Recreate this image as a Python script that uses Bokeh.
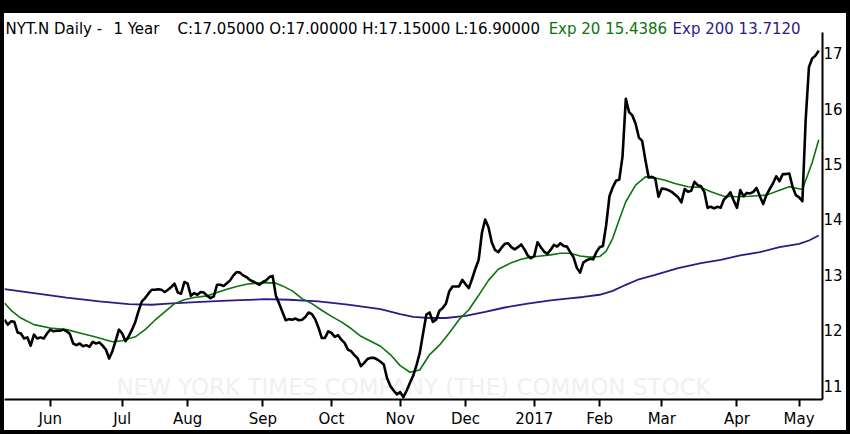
from bokeh.plotting import figure
from bokeh.models import Range1d, FixedTicker, Label, Spacer
from bokeh.layouts import column, row
from bokeh.embed import file_html
from bokeh.resources import INLINE

# ---------------- data ----------------
close = [
    12.19, 12.10, 12.16, 12.15, 11.96, 11.94, 11.85, 11.87, 11.72, 11.92,
    11.85, 11.87, 11.85, 11.94, 12.01, 11.98, 11.99, 11.99, 12.01, 11.98,
    11.93, 11.76, 11.73, 11.76, 11.71, 11.73, 11.70, 11.79, 11.76, 11.78,
    11.72, 11.65, 11.49, 11.62, 11.81, 12.01, 11.94, 11.80, 11.89, 12.01,
    12.15, 12.35, 12.52, 12.58, 12.66, 12.73, 12.73, 12.74, 12.73, 12.69,
    12.73, 12.78, 12.84, 12.68, 12.66, 12.87, 12.84, 12.62, 12.67, 12.64,
    12.69, 12.68, 12.62, 12.58, 12.61, 12.82, 12.82, 12.80, 12.85, 12.90,
    12.99, 13.05, 13.04, 12.99, 12.96, 12.91, 12.88, 12.85, 12.82, 12.87,
    12.90, 12.96, 12.98, 12.62, 12.48, 12.33, 12.18, 12.20, 12.19, 12.21,
    12.18, 12.19, 12.24, 12.32, 12.29, 12.20, 12.05, 11.86, 11.86, 11.98,
    11.95, 11.88, 11.91, 11.83, 11.77, 11.65, 11.62, 11.55, 11.49, 11.35,
    11.41, 11.48, 11.50, 11.50, 11.47, 11.43, 11.38, 11.13, 10.99, 10.91,
    10.84, 10.88, 10.79, 10.91, 11.05, 11.18, 11.37, 11.59, 11.94, 12.28,
    12.32, 12.15, 12.19, 12.35, 12.40, 12.48, 12.70, 12.79, 12.79, 12.79,
    12.91, 12.83, 12.76, 12.93, 13.11, 13.27, 13.76, 14.00, 13.86, 13.59,
    13.45, 13.41, 13.49, 13.56, 13.57, 13.50, 13.46, 13.50, 13.55, 13.46,
    13.35, 13.30, 13.34, 13.59, 13.50, 13.42, 13.38, 13.45, 13.54, 13.51,
    13.57, 13.52, 13.51, 13.41, 13.32, 13.13, 13.04, 13.22, 13.26, 13.29,
    13.28, 13.41, 13.50, 13.52, 13.90, 14.42, 14.58, 14.70, 14.72, 15.14,
    16.18, 15.94, 15.88, 15.73, 15.48, 15.42, 15.07, 14.76, 14.77, 14.74,
    14.41, 14.56, 14.55, 14.53, 14.50, 14.45, 14.40, 14.31, 14.55, 14.50,
    14.52, 14.68, 14.62, 14.60, 14.50, 14.21, 14.23, 14.20, 14.23, 14.21,
    14.36, 14.42, 14.49, 14.34, 14.21, 14.53, 14.42, 14.48, 14.47, 14.50,
    14.57, 14.42, 14.28, 14.44, 14.55, 14.65, 14.78, 14.69, 14.82, 14.82,
    14.83, 14.59, 14.44, 14.40, 14.33, 15.79, 16.75, 16.91, 16.96, 17.05,
]
day = list(range(len(close)))

ema20_day = [0, 2, 5, 9, 14, 19, 23, 27, 30, 33, 36, 40, 43, 46, 49, 52, 55, 58, 62, 65,
             68, 71, 74, 77, 80, 83, 85, 88, 91, 94, 97, 100, 103, 106, 109, 112, 115, 118, 121, 124,
             127, 130, 133, 136, 139, 142, 145, 148, 151, 155, 158, 161, 164, 167, 170, 173, 176, 179, 182, 184,
             186, 188, 190, 193, 196, 199, 202, 205, 209, 213, 216, 220, 224, 228, 233, 237, 240, 244, 247, 249]
ema20 = [12.49, 12.36, 12.22, 12.10, 12.04, 12.01, 11.95, 11.89, 11.84, 11.79,
         11.81, 11.88, 12.01, 12.18, 12.33, 12.48, 12.55, 12.59, 12.62, 12.68,
         12.74, 12.79, 12.83, 12.85, 12.86, 12.85, 12.80, 12.71, 12.57, 12.48,
         12.36, 12.25, 12.15, 12.03, 11.89, 11.80, 11.71, 11.56, 11.36, 11.24,
         11.28, 11.56, 11.73, 11.95, 12.19, 12.37, 12.63, 12.90, 13.10, 13.22,
         13.28, 13.32, 13.34, 13.36, 13.39, 13.39, 13.34, 13.32, 13.33, 13.43,
         13.66, 14.00, 14.32, 14.62, 14.77, 14.75, 14.71, 14.65, 14.59, 14.58,
         14.50, 14.42, 14.41, 14.42, 14.44, 14.53, 14.59, 14.54, 15.03, 15.44]

ema200_day = [0, 9, 19, 29, 38, 45, 50, 60, 70, 80, 87, 96, 105, 115, 121, 125, 130, 135, 141, 147,
              153, 160, 167, 172, 177, 182, 186, 190, 194, 199, 206, 213, 219, 225, 231, 237, 243, 246, 249]
ema200 = [12.74, 12.67, 12.59, 12.52, 12.47, 12.46, 12.48, 12.51, 12.54, 12.56,
          12.55, 12.52, 12.46, 12.38, 12.29, 12.24, 12.22, 12.22, 12.26, 12.33,
          12.41, 12.48, 12.54, 12.57, 12.60, 12.64, 12.71, 12.82, 12.92, 13.00,
          13.12, 13.21, 13.27, 13.35, 13.41, 13.50, 13.56, 13.62, 13.71]

month_day = [14, 36, 56, 79, 100, 121, 141, 162, 182, 201, 224, 243]
month_lbl = ["Jun", "Jul", "Aug", "Sep", "Oct", "Nov", "Dec", "2017", "Feb", "Mar", "Apr", "May"]
price_ticks = [11, 12, 13, 14, 15, 16, 17]

header_parts = ["NYT.N Daily -", "1 Year", "C:17.05000 O:17.00000 H:17.15000 L:16.90000",
                "Exp 20 15.4386", "Exp 200 13.7120"]
watermark = "NEW YORK TIMES COMPANY (THE) COMMON STOCK"

# ---------------- styling ----------------
FONT = "DejaVu Sans"
GREEN = "#0b740b"
PURPLE = "#2e1a87"
PW, PH = 842, 417          # white chart area inside a black picture border

p = figure(width=PW, height=PH, output_backend="svg", toolbar_location=None,
           y_axis_location="right",
           x_range=Range1d(0, 250.15), y_range=Range1d(10.748, 17.721),
           min_border_left=0, min_border_right=24, min_border_top=0, min_border_bottom=30)
p.outline_line_color = None
p.xgrid.visible = False
p.ygrid.visible = False
p.background_fill_color = "white"
p.border_fill_color = "white"

# watermark
p.add_layout(Label(x=125.1, y=10.98, text=watermark, text_align="center",
                   text_baseline="alphabetic", text_font=FONT, text_font_size="23px",
                   text_color="#f0f0f0", level="underlay"))

p.line(ema200_day, ema200, line_color=PURPLE, line_width=1.8)
p.line(ema20_day, ema20, line_color=GREEN, line_width=1.6)
p.line(day, close, line_color="black", line_width=2.6, line_join="round")

# axes
xa = p.xaxis[0]
xa.ticker = FixedTicker(ticks=month_day)
xa.major_label_overrides = {d: l for d, l in zip(month_day, month_lbl)}
xa.major_label_text_align = "left"
xa.major_label_text_font = FONT
xa.major_label_text_font_size = "15px"
xa.major_label_text_color = "black"
xa.major_tick_out = 7
xa.major_tick_in = 0
xa.major_tick_line_width = 2
xa.major_tick_line_color = "black"
xa.minor_tick_line_color = None
xa.axis_line_width = 2
xa.axis_line_color = "black"
xa.major_label_standoff = 3

ya = p.yaxis[0]
ya.ticker = FixedTicker(ticks=price_ticks)
ya.bounds = (10.748, 17.378)
ya.major_label_text_font = FONT
ya.major_label_text_font_size = "15px"
ya.major_label_text_color = "black"
ya.major_tick_out = 0
ya.major_tick_in = 0
ya.minor_tick_line_color = None
ya.major_tick_line_color = None
ya.axis_line_width = 2
ya.axis_line_color = "black"
ya.major_label_standoff = 1

# header (x in trading-day units, y in price units, top band of the frame)
header_day = [0.31, 33.3, 52.9, 166.4, 204.3]
header_col = ["black", "black", "black", GREEN, PURPLE]
for t, hx, c in zip(header_parts, header_day, header_col):
    p.add_layout(Label(x=hx, y=17.445, text=t, text_align="left",
                       text_baseline="alphabetic", text_font=FONT, text_font_size="15px",
                       text_color=c))

# black picture border around the chart
BLACK = {"background-color": "black"}
top_bar = Spacer(width=PW + 8, height=13, styles=BLACK)
left_bar = Spacer(width=4, height=PH, styles=BLACK)
right_bar = Spacer(width=4, height=PH, styles=BLACK)
bottom_bar = Spacer(width=PW + 8, height=4, styles=BLACK)
page = column(top_bar, row(left_bar, p, right_bar), bottom_bar)

open("out.html", "w").write(file_html(page, INLINE))
